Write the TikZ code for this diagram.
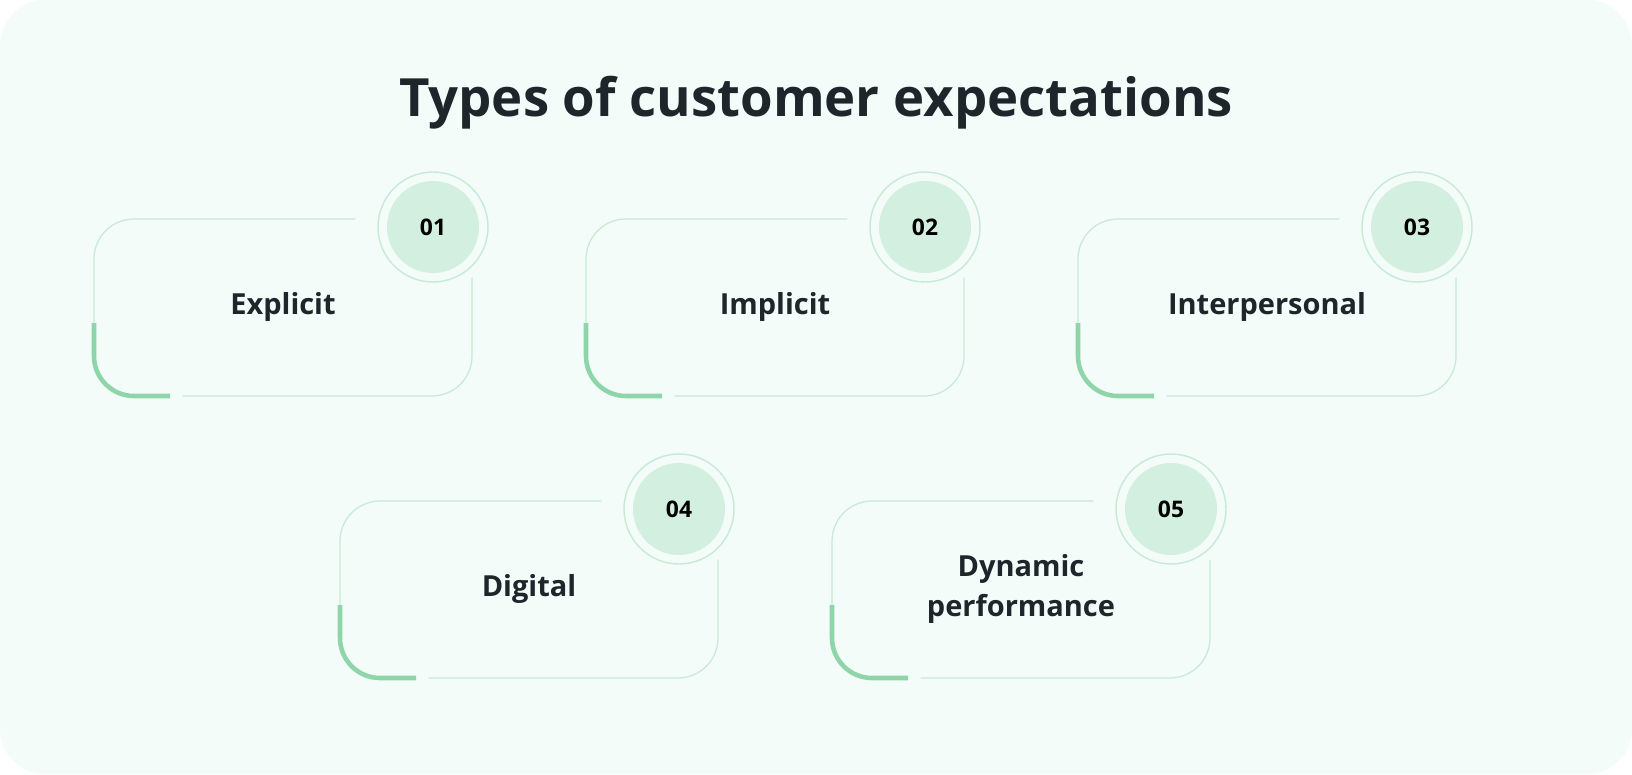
\documentclass[tikz,border=0pt]{standalone}
\usepackage{fontspec}
\setmainfont{Open Sans}
\usepackage{tikz}
\usetikzlibrary{positioning, calc}
\definecolor{bgmint}{HTML}{F3FCF8}
\definecolor{thinline}{HTML}{C6EAD5}
\definecolor{thickline}{HTML}{8ED6AA}
\definecolor{discfill}{HTML}{D3EFDF}
\definecolor{inkdark}{HTML}{1E252B}

\newcommand{\expcard}[5]{%
% card frame
\draw[thinframe] (#1+261,#2) -- (#1,#2) -- (#1,#2+104);
\draw[thinframe] (#1+89,#2+177) -- (#1+378,#2+177) -- (#1+378,#2+59);
\draw[thickframe] (#1,#2+104) -- (#1,#2+177) -- (#1+76,#2+177);
% number badge
\node[ring] (#5ring) at (#1+339,#2+8) {};
\node[disc] (#5) at (#5ring) {\bfseries #3};
\node[cardtext] (#5text) at (#1+189,#2+88) {#4};
}

\begin{document}
\begin{tikzpicture}[x=0.02cm, y=-0.02cm,
  thinframe/.style={draw=thinline, line width=0.7pt, line cap=round, rounded corners=0.8cm},
  thickframe/.style={draw=thickline, line width=2.6pt, rounded corners=0.8cm},
  ring/.style={circle, draw=thinline, line width=0.8pt, fill=bgmint, minimum size=2.2cm, inner sep=0pt},
  disc/.style={circle, fill=discfill, minimum size=1.84cm, inner sep=0pt, font=\fontsize{13}{15}\selectfont, text=black},
  cardtext/.style={align=center, font=\bfseries\fontsize{16.5}{23}\selectfont, text=inkdark}]
\useasboundingbox (0,0) rectangle (1632,774);
\fill[white] (0,0) rectangle (1632,774);
\fill[bgmint, rounded corners=0.9cm] (0,0) rectangle (1632,774);

\node[font=\bfseries\fontsize{30}{36}\selectfont, text=inkdark] (title) at (816,103) {Types of customer expectations};

% first row
\expcard{94}{219}{01}{Explicit}{explicit}
\expcard{586}{219}{02}{Implicit}{implicit}
\expcard{1078}{219}{03}{Interpersonal}{interpersonal}
% second row
\expcard{340}{501}{04}{Digital}{digital}
\expcard{832}{501}{05}{Dynamic\\performance}{dynamic}

\end{tikzpicture}
\end{document}
